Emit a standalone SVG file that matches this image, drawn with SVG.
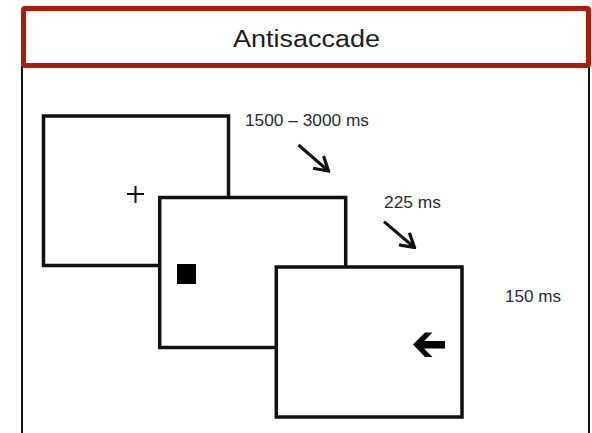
<svg xmlns="http://www.w3.org/2000/svg" width="592" height="433" viewBox="0 0 592 433">
  <style>
    .frame { fill: #ffffff; stroke: #111111; stroke-width: 3.5; }
    .label { font-family: "Liberation Sans", Arial, sans-serif; fill: #2a2a33; }
    .timing { font-size: 17px; }
    .title { font-size: 23px; fill: #1e1e1e; }
    .link { stroke: #111111; stroke-width: 3; fill: none; }
  </style>
  <defs>
    <marker id="arrowOpen" viewBox="-16 -10 18 20" refX="0" refY="0" markerWidth="18" markerHeight="20" markerUnits="userSpaceOnUse" orient="auto">
      <path d="M-13.5,-8 L0,0 L-13.5,8" fill="none" stroke="#111111" stroke-width="3.2" stroke-linejoin="miter"/>
    </marker>
  </defs>

  <rect x="0" y="0" width="592" height="433" fill="#ffffff"/>

  <!-- outer panel sides -->
  <g id="panel">
    <line x1="22" y1="66" x2="22" y2="433" stroke="#111111" stroke-width="2"/>
    <line x1="589" y1="66" x2="589" y2="433" stroke="#111111" stroke-width="2"/>
  </g>

  <!-- title bar -->
  <g id="header">
    <rect x="23.5" y="8.5" width="565" height="57" rx="1.5" fill="#ffffff" stroke="#b01a0b" stroke-width="5"/>
    <text class="label title" x="233" y="47.3" textLength="147" lengthAdjust="spacingAndGlyphs">Antisaccade</text>
  </g>

  <!-- fixation screen -->
  <g id="fixation">
    <rect class="frame" x="43.5" y="116" width="185" height="149.5"/>
    <path d="M127,194 H144 M135.5,186 V203" stroke="#111111" stroke-width="2" fill="none"/>
  </g>

  <!-- cue screen -->
  <g id="cue">
    <rect class="frame" x="159.7" y="197.5" width="186" height="150"/>
    <rect x="177" y="264" width="19" height="20" fill="#000000"/>
  </g>

  <!-- target screen -->
  <g id="target">
    <rect class="frame" x="276.3" y="267" width="185.7" height="150"/>
    <polygon points="413,344.5 425,332.5 432.5,332.5 424,341 445,341 445,348.5 424,348.5 432.5,357 425,357" fill="#000000"/>
  </g>

  <!-- durations -->
  <g id="durations">
    <text class="label timing" x="245" y="126" textLength="124" lengthAdjust="spacingAndGlyphs">1500 – 3000 ms</text>
    <text class="label timing" x="384" y="208.3" textLength="57" lengthAdjust="spacingAndGlyphs">225 ms</text>
    <text class="label timing" x="505" y="302.3" textLength="56" lengthAdjust="spacingAndGlyphs">150 ms</text>
  </g>

  <!-- sequence arrows -->
  <g id="connectors">
    <line class="link" x1="298.5" y1="145" x2="328.5" y2="171" marker-end="url(#arrowOpen)"/>
    <line class="link" x1="384" y1="221.7" x2="414.5" y2="247.5" marker-end="url(#arrowOpen)"/>
  </g>
</svg>
